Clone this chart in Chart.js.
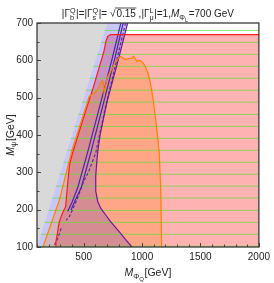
<!DOCTYPE html>
<html>
<head>
<meta charset="utf-8">
<script src="https://cdn.jsdelivr.net/npm/chart.js"></script>
<style>
  html, body { margin: 0; padding: 0; background: #fff; }
  canvas { display: block; }
</style>
</head>
<body>
<canvas id="chart" width="274" height="283"></canvas>
<script>
const xTicks = [500, 1000, 1500, 2000]
const yTicks = [100, 200, 300, 400, 500, 600, 700]

// grey: M_PhiQ < M_psi
const grayX = [100, 100, 700]
const grayY = [100, 700, 700]

// red contour (pink region to its right, below ~670)
const redX = [258, 262, 275, 283, 292, 305, 325, 345, 360, 378, 405, 498, 589, 673, 690, 705, 730, 2000]
const redY = [100, 114, 137, 154, 168, 180, 195, 208, 260, 320, 352, 446, 535, 624, 650, 664, 669, 669]

// orange contour
const orangeX = [151, 292, 400, 488, 548, 590, 617, 640, 660, 668, 675, 685, 701, 744, 772, 800, 815, 835, 857, 885, 913, 927, 945, 955, 970, 989, 1010, 1026, 1054, 1074, 1097, 1125, 1147, 1160, 1167]
const orangeY = [100, 226, 360, 446, 504, 512, 521, 535, 546, 540, 510, 530, 553, 579, 597, 606, 611, 606, 602, 605, 606, 611, 603, 597, 600, 599, 592, 584, 562, 535, 490, 419, 352, 250, 100]

// purple contour (edge of the blue region)
const purpleX = [876, 800, 701, 640, 620, 610, 603, 603, 620, 645, 690, 730, 780, 828, 870, 913]
const purpleY = [700, 606, 491, 400, 355, 320, 290, 250, 222, 204, 185, 168, 150, 132, 116, 100]

// inner contours
const solidAX = [818, 740, 640, 532, 450, 400, 362]
const solidAY = [700, 600, 480, 352, 260, 220, 195]
const solidBX = [838, 762, 665, 560, 480, 420, 391]
const solidBY = [700, 600, 480, 352, 260, 220, 199]
const dashAX = [858, 782, 690, 603, 540, 498, 440, 377, 350]
const dashAY = [700, 600, 480, 352, 300, 275, 225, 181, 172]
const dashBX = [307, 280, 250]
const dashBY = [150, 125, 105]

// green hatching levels
const hatchY = [680, 648, 616, 584, 552, 520, 488, 455, 423, 391, 359, 327, 295, 263, 231, 198, 166, 134, 102]

const pts = (xs, ys) => xs.map((x, i) => ({ x, y: ys[i] }))

const FAM = "'Liberation Sans', Arial, sans-serif"
Chart.defaults.font.family = FAM

const area = (data, color, order) => ({
  data, order, backgroundColor: color, borderWidth: 0, fill: 'shape',
  pointRadius: 0, tension: 0
})
const curve = (data, color, order, dash) => ({
  data, order, borderColor: color, borderWidth: 1.2, borderDash: dash || [],
  fill: false, pointRadius: 0, tension: 0
})

const datasets = [
  area(pts(grayX, grayY), '#d9d9d9', 20),
  area(pts([...redX, 2000], [...redY, 100]), 'rgba(255,0,0,0.3)', 19),
  area(pts([100, 700, ...purpleX], [100, 700, ...purpleY]), 'rgba(70,70,235,0.3)', 18),
  area(pts(orangeX, orangeY), 'rgba(255,128,0,0.25)', 17),
  ...hatchY.map(v => ({
    data: [{ x: v, y: v }, { x: 2000, y: v }], order: 16,
    borderColor: 'rgba(100,220,60,0.75)', borderWidth: 1, fill: false, pointRadius: 0
  })),
  curve(pts(solidAX, solidAY), '#4a25b0', 6),
  curve(pts(solidBX, solidBY), '#4a25b0', 6),
  curve(pts(dashAX, dashAY), '#5a2aa8', 6, [3, 2]),
  curve(pts(dashBX, dashBY), '#5a2aa8', 6, [3, 2]),
  curve(pts(purpleX, purpleY), '#6a1b9a', 5),
  curve(pts(redX, redY), '#ff1a1a', 4),
  curve(pts(orangeX, orangeY), '#ff8000', 3)
]

function drawRich(ctx, parts, x, y, size, rot) {
  const f = (s, it) => (it ? 'italic ' : '') + s + 'px ' + FAM
  const small = size * 0.72, tiny = size * 0.58
  const width = p => {
    if (p.t != null) { ctx.font = f(size, p.it); return ctx.measureText(p.t).width }
    if (p.sqrt != null) { ctx.font = f(size); return ctx.measureText('√' + p.sqrt).width + 1 }
    ctx.font = f(small)
    let a = ctx.measureText(p.sub || '').width
    const b = ctx.measureText(p.sup || '').width
    if (p.subsub) { ctx.font = f(tiny); a += ctx.measureText(p.subsub).width }
    return Math.max(a, b) + 0.5
  }
  const total = parts.reduce((s, p) => s + width(p), 0)
  ctx.save()
  ctx.translate(x, y)
  if (rot) ctx.rotate(rot)
  ctx.textAlign = 'left'
  ctx.textBaseline = 'alphabetic'
  ctx.fillStyle = '#222'
  ctx.strokeStyle = '#222'
  let cx = -total / 2
  for (const p of parts) {
    const pw = width(p)
    if (p.t != null) {
      ctx.font = f(size, p.it)
      ctx.fillText(p.t, cx, 0)
    } else if (p.sqrt != null) {
      ctx.font = f(size)
      const ws = ctx.measureText('√').width
      const wt = ctx.measureText(p.sqrt).width
      ctx.fillText('√', cx, 0)
      ctx.fillText(p.sqrt, cx + ws + 1, 0)
      ctx.lineWidth = 0.8
      ctx.beginPath()
      ctx.moveTo(cx + ws - 0.5, -size * 0.9)
      ctx.lineTo(cx + ws + wt + 1.5, -size * 0.9)
      ctx.stroke()
    } else {
      ctx.font = f(small)
      if (p.sup) ctx.fillText(p.sup, cx, -size * 0.42)
      if (p.sub) {
        ctx.fillText(p.sub, cx, size * 0.26)
        if (p.subsub) {
          const sw = ctx.measureText(p.sub).width
          ctx.font = f(tiny)
          ctx.fillText(p.subsub, cx + sw, size * 0.45)
        }
      }
    }
    cx += pw
  }
  ctx.restore()
}

const titleParts = [
  { t: '|Γ' }, { sup: 'Q', sub: 'b' }, { t: '|=|Γ' }, { sup: 'Q', sub: 's' }, { t: '|= ' },
  { sqrt: '0.15' }, { t: ' ,|Γ' }, { sup: 'L', sub: 'μ' }, { t: '|=1,' },
  { t: 'M', it: true }, { sub: 'Φ', subsub: 'L' }, { t: '=700 GeV' }
]
const xTitleParts = [{ t: 'M', it: true }, { sub: 'Φ', subsub: 'Q' }, { t: '[GeV]' }]
const yTitleParts = [{ t: 'M', it: true }, { sub: 'ψ' }, { t: '[GeV]' }]

const framePlugin = {
  id: 'frame',
  afterDatasetsDraw(chart) {
    const { ctx, chartArea: a, scales: { x, y } } = chart
    ctx.save()
    ctx.strokeStyle = '#444'
    ctx.lineWidth = 1
    ctx.beginPath()
    for (let v = 100; v <= 2000; v += 100) {
      const px = Math.round(x.getPixelForValue(v)) + 0.5
      const len = v % 500 === 0 ? 4 : 2.5
      ctx.moveTo(px, a.bottom); ctx.lineTo(px, a.bottom - len)
    }
    for (let v = 100; v <= 700; v += 50) {
      const py = Math.round(y.getPixelForValue(v)) + 0.5
      const len = v % 100 === 0 ? 4 : 2.5
      ctx.moveTo(a.left, py); ctx.lineTo(a.left + len, py)
    }
    ctx.stroke()
    ctx.lineWidth = 1.3
    ctx.strokeStyle = '#3a3a3a'
    ctx.strokeRect(a.left, a.top, a.right - a.left, a.bottom - a.top)
    ctx.restore()
  },
  afterDraw(chart) {
    const { ctx, chartArea: a } = chart
    const mid = (a.left + a.right) / 2
    drawRich(ctx, titleParts, mid, 17, 10)
    drawRich(ctx, xTitleParts, mid, 276, 10.5)
    drawRich(ctx, yTitleParts, 13.5, (a.top + a.bottom) / 2, 10.5, -Math.PI / 2)
  }
}

new Chart(document.getElementById('chart'), {
  type: 'line',
  data: { datasets },
  options: {
    responsive: false,
    animation: false,
    layout: { padding: { top: 23, right: 12, left: 0, bottom: 0 } },
    plugins: { legend: { display: false }, tooltip: { enabled: false }, title: { display: false } },
    scales: {
      x: {
        type: 'linear', min: 100, max: 2000,
        afterBuildTicks: s => { s.ticks = xTicks.map(v => ({ value: v })) },
        afterFit: s => { s.height = 36 },
        grid: { display: false, drawTicks: false },
        border: { display: false },
        ticks: { color: '#222', font: { size: 10 }, padding: 4, maxRotation: 0, autoSkip: false, callback: v => String(v) }
      },
      y: {
        type: 'linear', min: 100, max: 700,
        afterBuildTicks: s => { s.ticks = yTicks.map(v => ({ value: v })) },
        afterFit: s => { s.width = 37 },
        grid: { display: false, drawTicks: false },
        border: { display: false },
        ticks: { color: '#222', font: { size: 10 }, padding: 4, callback: v => String(v) }
      }
    }
  },
  plugins: [framePlugin]
})
</script>
</body>
</html>
